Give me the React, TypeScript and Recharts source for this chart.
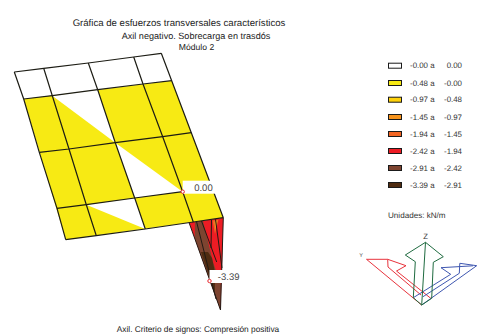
import { ScatterChart, Scatter, XAxis, YAxis } from "recharts";

type Pt = { x: number; y: number };
const pt = (x: number, y: number): Pt => ({ x, y });

// mesh of the module, row by row (top edge first)
const meshRows: Pt[][] = [
  [pt(14.3, 72), pt(43.7, 68.3), pt(88.3, 63), pt(133.7, 57), pt(161.3, 53.3)],
  [pt(23.7, 99), pt(52.3, 95.7), pt(97.7, 89.7), pt(143, 84), pt(171.7, 80.7)],
  [pt(39.3, 152.3), pt(69, 149), pt(115.3, 142.7), pt(162.7, 136.7), pt(191.3, 132.7)],
  [pt(57, 208.3), pt(86.3, 204.7), pt(134.7, 198), pt(182.7, 191.7), pt(212, 187.7)],
  [pt(65.7, 239.7), pt(96.3, 235.7), pt(145.3, 229), pt(193.3, 222), pt(223.3, 217.7)],
];

const yellowBand = [pt(23.7, 99), pt(171.7, 80.7), pt(223.3, 217.7), pt(65.7, 239.7)];
const whiteTriangles = [
  [pt(52.3, 95.7), pt(97.7, 89.7), pt(115.3, 142.7)],
  [pt(115.3, 142.7), pt(134.7, 198), pt(182.7, 191.7)],
  [pt(86.3, 204.7), pt(134.7, 198), pt(145.3, 229)],
];

// diagram hanging under the last mesh row
const fanAreas: { color: string; points: Pt[] }[] = [
  { color: "#ed1c24", points: [pt(189, 222.5), pt(223.3, 217.7), pt(221.8, 275), pt(220.5, 310)] },
  { color: "#7d4430", points: [pt(195, 222), pt(203, 221), pt(213, 262), pt(221, 285), pt(220.5, 310), pt(194.7, 238)] },
  { color: "#4f2c11", points: [pt(201, 252), pt(208, 252), pt(212, 258), pt(215, 272), pt(215, 292), pt(211, 282)] },
  { color: "#f26522", points: [pt(212.5, 220.5), pt(218.5, 219.5), pt(215, 234)] },
  { color: "#f7941d", points: [pt(214.5, 222), pt(217.5, 220), pt(215.5, 230)] },
];
const fanLines = [
  [pt(189, 222.5), pt(220.5, 310)],
  [pt(196.5, 221.5), pt(216, 299)],
  [pt(201.5, 221), pt(216.7, 262)],
  [pt(211.5, 220), pt(211, 248)],
  [pt(215.5, 219.3), pt(222, 268)],
  [pt(223.3, 217.7), pt(220.5, 310)],
];

const valueLabels = [
  { x: 182.7, y: 191.7, value: "0.00" },
  { x: 209.5, y: 281, value: "-3.39" },
];

const legendFrom = ["-0.00", "-0.48", "-0.97", "-1.45", "-1.94", "-2.42", "-2.91", "-3.39"];
const legendTo = ["0.00", "-0.00", "-0.48", "-0.97", "-1.45", "-1.94", "-2.42", "-2.91"];
const legendColors = ["#ffffff", "#f7ea14", "#ffd20a", "#f7941d", "#f26522", "#ed1c24", "#7d4430", "#4f2c11"];
const legendRowY = [65.7, 83, 99.7, 117, 134, 151, 168, 185];

// axis triad
const redAxis = [
  [pt(366.5, 259.3), pt(421.7, 305)],
  [pt(366.5, 259.3), pt(387.7, 259.3), pt(406, 265.7), pt(396.5, 271), pt(431, 298.5)],
  [pt(387.7, 259.3), pt(388, 267), pt(421, 295)],
];
const blueAxis = [
  [pt(476.7, 265.7), pt(421.7, 305)],
  [pt(476.7, 265.7), pt(459.8, 263.3), pt(459.3, 273.3), pt(423, 296.7)],
  [pt(473, 265.8), pt(441, 267.7), pt(450.7, 274.3), pt(413.3, 297.7)],
];
const greenAxis = [
  [pt(425.5, 242.3), pt(421.7, 305)],
  [pt(413.3, 297.7), pt(415.3, 261.7), pt(405.3, 255), pt(425.5, 242.3), pt(443.3, 256.7), pt(433.3, 262.3), pt(431.7, 298.3)],
  [pt(413.3, 297.7), pt(421.7, 305), pt(431.7, 298.3)],
];

const FONT = "Liberation Sans, Arial, sans-serif";
const noDot = () => <g />;
const textStyle = { fontFamily: FONT, textRendering: "geometricPrecision" as const };

const area = (points: Pt[], color: string, key: string) => (
  <Scatter
    key={key}
    data={points}
    line={{ fill: color, stroke: "none" }}
    lineJointType="linearClosed"
    shape={noDot}
    isAnimationActive={false}
  />
);

const polyline = (points: Pt[], color: string, width: number, key: string) => (
  <Scatter
    key={key}
    data={points}
    line={{ stroke: color, strokeWidth: width, fill: "none" }}
    shape={noDot}
    isAnimationActive={false}
  />
);

const ValueTag = (props: any) => {
  const { cx, cy, payload } = props;
  return (
    <g>
      <rect x={cx} y={cy - 11} width={33} height={13} fill="#fff" />
      <text x={cx + 30} y={cy - 0.8} textAnchor="end" fontSize={9.5} style={textStyle} fill="#444">
        {payload.value}
      </text>
      <circle cx={cx} cy={cy} r={1.7} fill="#fff" stroke="#e8262d" strokeWidth={1} />
    </g>
  );
};

const meshColumns = meshRows[0].map((_, i) => meshRows.map((row) => row[i]));

export default function App() {
  return (
    <div style={{ position: "absolute", left: 0, top: 0, width: 477, height: 336, background: "#fff" }}>
      <ScatterChart width={477} height={336} margin={{ top: 0, right: 0, bottom: 0, left: 0 }}>
        <XAxis type="number" dataKey="x" domain={[0, 477]} hide allowDataOverflow />
        <YAxis type="number" dataKey="y" domain={[0, 336]} reversed hide allowDataOverflow />

        {fanAreas.map((a, i) => area(a.points, a.color, `fan${i}`))}
        {fanLines.map((l, i) => polyline(l, "#231a14", 1, `fanl${i}`))}

        {area(yellowBand, "#f7ea14", "band")}
        {whiteTriangles.map((t, i) => area(t, "#ffffff", `tri${i}`))}
        {meshRows.map((r, i) => polyline(r, "#1c1c14", 1.2, `row${i}`))}
        {meshColumns.map((c, i) => polyline(c, "#1c1c14", 1.2, `col${i}`))}

        <Scatter data={valueLabels} shape={ValueTag} isAnimationActive={false} />

        {redAxis.map((l, i) => polyline(l, "#e8333c", 1, `red${i}`))}
        {blueAxis.map((l, i) => polyline(l, "#3f57b0", 1, `blue${i}`))}
        {greenAxis.map((l, i) => polyline(l, "#1f6b40", 1, `green${i}`))}

        <text x={179} y={25.5} textAnchor="middle" fontSize={9.6} style={textStyle} fill="#222">
          Gráfica de esfuerzos transversales característicos
        </text>
        <text x={196} y={38.5} textAnchor="middle" fontSize={9.1} style={textStyle} fill="#222">
          Axil negativo. Sobrecarga en trasdós
        </text>
        <text x={196.5} y={50} textAnchor="middle" fontSize={8.6} style={textStyle} fill="#222">
          Módulo 2
        </text>
        <text x={198} y={332} textAnchor="middle" fontSize={8.3} style={textStyle} fill="#222">
          Axil. Criterio de signos:  Compresión positiva
        </text>

        {legendColors.map((color, i) => (
          <g key={color}>
            <rect x={388.5} y={legendRowY[i] - 2.5} width={13} height={5} fill={color} stroke="#1a1a1a" strokeWidth={1} />
            <text x={410} y={legendRowY[i] + 2.5} fontSize={7.9} style={textStyle} fill="#333">
              {legendFrom[i]} a
            </text>
            <text x={462} y={legendRowY[i] + 2.5} textAnchor="end" fontSize={7.9} style={textStyle} fill="#333">
              {legendTo[i]}
            </text>
          </g>
        ))}
        <text x={388} y={218} fontSize={8.1} style={textStyle} fill="#333">
          Unidades: kN/m
        </text>
        <text x={425.5} y={239} textAnchor="middle" fontSize={7.6} style={textStyle} fill="#333">
          Z
        </text>
        <text x={361} y={257} textAnchor="middle" fontSize={5.5} style={textStyle} fill="#555">
          Y
        </text>
      </ScatterChart>
    </div>
  );
}
